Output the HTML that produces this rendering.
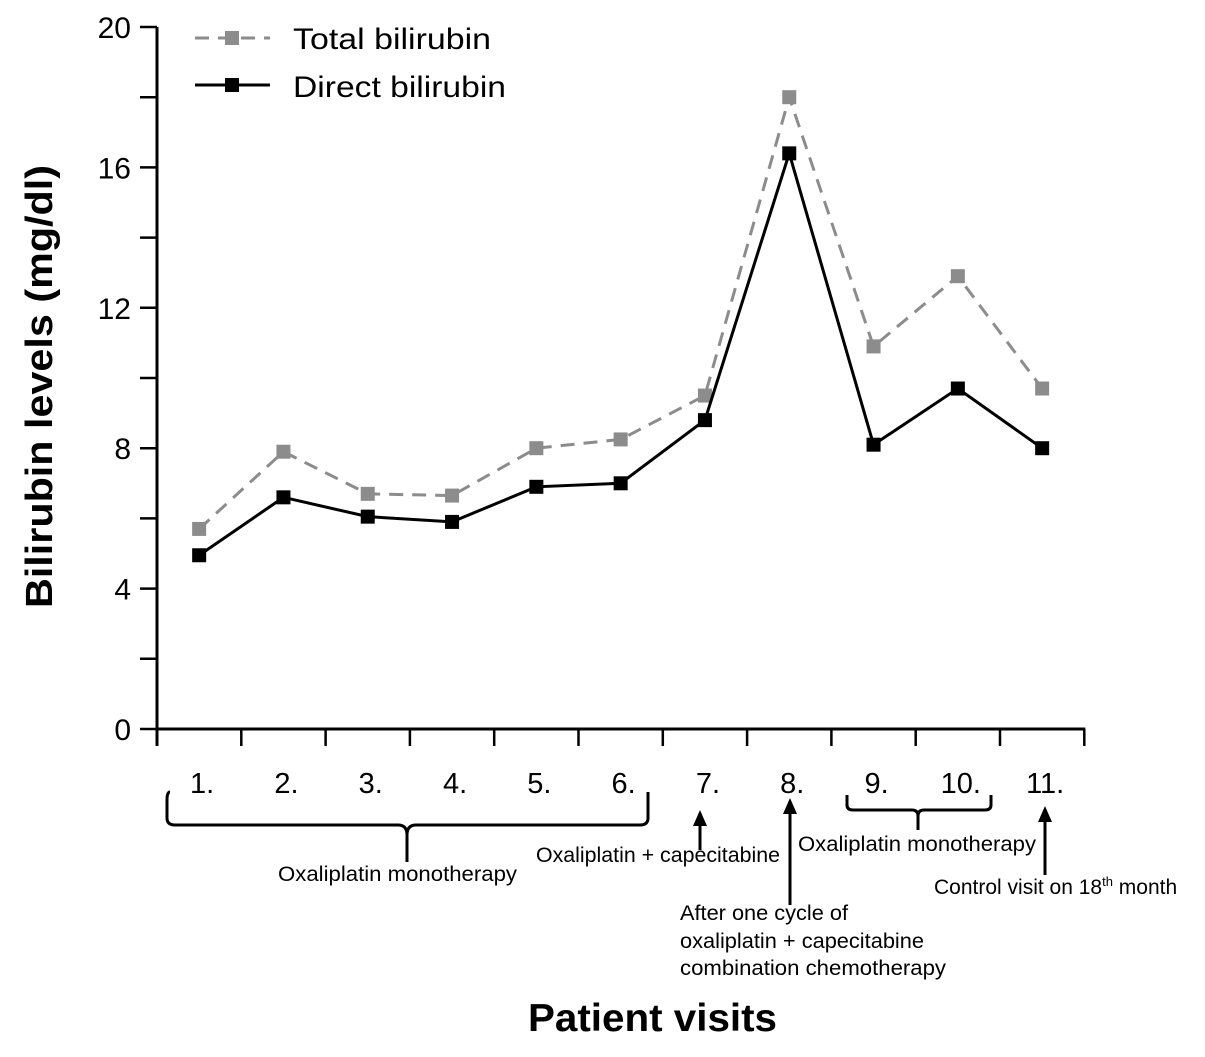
<!DOCTYPE html>
<html><head><meta charset="utf-8"><style>
body{margin:0;background:#fff}
svg text{font-family:"Liberation Sans",sans-serif}
</style></head><body>
<svg width="1205" height="1052" viewBox="0 0 1205 1052" id="chart">
</svg>
<script>
const categories=["1.","2.","3.","4.","5.","6.","7.","8.","9.","10.","11."];
const totalValues=[5.7,7.9,6.7,6.65,8.0,8.25,9.5,18.0,10.9,12.9,9.7];
const directValues=[4.95,6.6,6.05,5.9,6.9,7.0,8.8,16.4,8.1,9.7,8.0];
const yTicks=[0,4,8,12,16,20];
const NS="http://www.w3.org/2000/svg";
const svg=document.getElementById('chart');
const x0=157,step=84.3,yBase=729,yTop=27;
function xs(i){return x0+step*(i+0.5);}
function ys(v){return yBase-(yBase-yTop)*v/20;}
function mk(t,a,p){const e=document.createElementNS(NS,t);for(const k in a)e.setAttribute(k,a[k]);(p||svg).appendChild(e);return e;}
let e=mk('line',{x1:x0,y1:yTop,x2:x0,y2:yBase+17,stroke:'#000','stroke-width':3});


e=mk('line',{x1:x0,y1:yBase,x2:x0+step*categories.length+1,y2:yBase,stroke:'#000','stroke-width':3});


for(let v=0;v<=20;v+=2){
 e=mk('line',{x1:x0-17,y1:ys(v),x2:x0,y2:ys(v),stroke:'#000','stroke-width':2.5});
 
 
}
yTicks.forEach(v=>{
 e=mk('text',{x:x0-26,y:ys(v)+11,'text-anchor':'end','font-size':30});
 e.textContent=v;
 
 
});
for(let i=0;i<=categories.length;i++){
 e=mk('line',{x1:x0+step*i,y1:yBase,x2:x0+step*i,y2:yBase+17,stroke:'#000','stroke-width':2.5});
 
 
}
categories.forEach((c,i)=>{
 e=mk('text',{x:xs(i)+3,y:793,'text-anchor':'middle','font-size':29});
 e.textContent=c;
 
 
});
function series(vals,color,dash,name){
 const pts=vals.map((v,i)=>xs(i)+','+ys(v)).join(' ');
 e=mk('polyline',{points:pts,fill:'none',stroke:color,'stroke-width':3,'stroke-dasharray':dash});
 
 
 vals.forEach((v,i)=>{
  e=mk('rect',{x:xs(i)-7,y:ys(v)-7,width:14,height:14,fill:color});
  
  
 });
}
series(totalValues,'#8c8c8c','14 9','total-bilirubin');
series(directValues,'#000','none','direct-bilirubin');
</script>
<svg width="1205" height="1052" style="position:absolute;left:0;top:0">
<g>
<line x1="195" y1="38" x2="270" y2="38" stroke="#8c8c8c" stroke-width="3" stroke-dasharray="14 9"/>
<rect x="225" y="31" width="14" height="14" fill="#8c8c8c"/>
<text x="293" y="49" font-size="30" textLength="198" lengthAdjust="spacingAndGlyphs">Total bilirubin</text>
<line x1="195" y1="85" x2="270" y2="85" stroke="#000" stroke-width="3"/>
<rect x="225" y="78" width="14" height="14" fill="#000"/>
<text x="293" y="97" font-size="30" textLength="213" lengthAdjust="spacingAndGlyphs">Direct bilirubin</text>
</g>
<text x="-608" y="52" transform="rotate(-90)" font-size="38" font-weight="bold" textLength="443" lengthAdjust="spacingAndGlyphs">Bilirubin levels (mg/dl)</text>
<text x="528" y="1031" font-size="39" font-weight="bold" textLength="249" lengthAdjust="spacingAndGlyphs">Patient visits</text>
<g fill="none" stroke="#000" stroke-width="3">
<path d="M170 792 Q167 792 167 800 L167 818 Q167 825 175 825 L398 825 Q407 825 407 835 L407 862 M407 835 Q407 825 416 825 L640 825 Q648 825 648 818 L648 792"/>
<path d="M847 795 L847 805 Q847 810 853 810 L912 810 Q918 810 918 816 L918 830 M918 816 Q918 810 924 810 L985 810 Q991 810 991 805 L991 795"/>
<line x1="700" y1="850" x2="700" y2="822"/>
<line x1="790" y1="905" x2="790" y2="810"/>
<line x1="1045" y1="875" x2="1045" y2="818"/>
</g>
<g fill="#000">
<polygon points="700,810 693,826 707,826"/>
<polygon points="790,798 783,814 797,814"/>
<polygon points="1045,806 1038,822 1052,822"/>
</g>
<g font-size="21">
<text x="278" y="881" textLength="239" lengthAdjust="spacingAndGlyphs">Oxaliplatin monotherapy</text>
<text x="536" y="862" textLength="244" lengthAdjust="spacingAndGlyphs">Oxaliplatin + capecitabine</text>
<text x="798" y="851" textLength="238" lengthAdjust="spacingAndGlyphs">Oxaliplatin monotherapy</text>
<text x="934" y="894">Control visit on 18<tspan font-size="13" dy="-8">th</tspan><tspan dy="8"> month</tspan></text>
<text x="680" y="920" textLength="168" lengthAdjust="spacingAndGlyphs">After one cycle of</text>
<text x="680" y="948" textLength="244" lengthAdjust="spacingAndGlyphs">oxaliplatin + capecitabine</text>
<text x="680" y="975" textLength="266" lengthAdjust="spacingAndGlyphs">combination chemotherapy</text>
</g>
</svg>
</body></html>
